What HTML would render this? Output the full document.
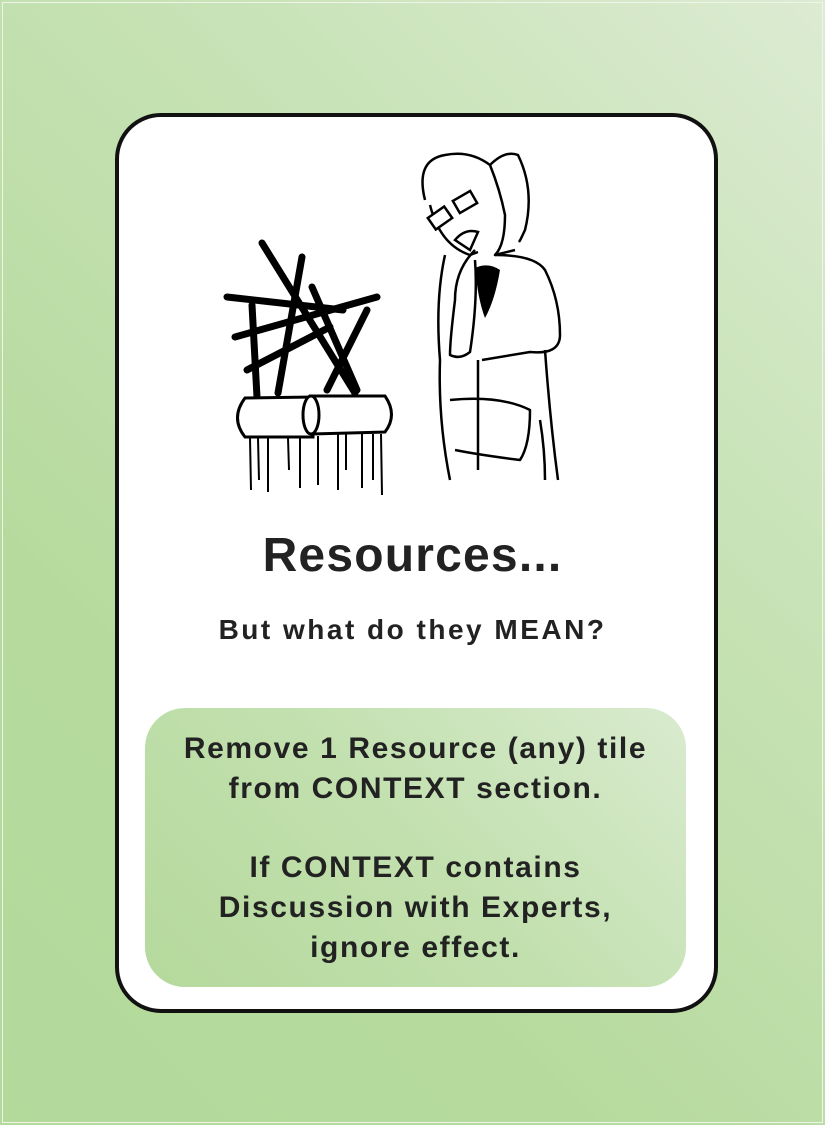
<!DOCTYPE html>
<html><head><meta charset="utf-8"><style>
html,body{margin:0;padding:0;}
body{width:825px;height:1125px;position:relative;overflow:hidden;
background:linear-gradient(225deg,#dcebd2 0%,#c6e2b4 35%,#b6da9e 70%,#b3d99b 100%);font-family:"Liberation Sans",sans-serif;}
.frame{position:absolute;left:2px;top:2px;width:819px;height:1119px;border:1px solid #eef5e8;}
.card{position:absolute;left:115px;top:113px;width:595px;height:892px;background:#fff;border:4px solid #111;border-radius:46px;}
.t1{position:absolute;left:0;width:825px;top:528px;text-align:center;font-weight:bold;font-size:48px;letter-spacing:1.2px;color:#222;}
.t2{position:absolute;left:0;width:825px;top:614px;text-align:center;font-weight:bold;font-size:28px;letter-spacing:2.5px;color:#222;}
.box{position:absolute;left:145px;top:708px;width:541px;height:279px;border-radius:40px;
background:linear-gradient(225deg,#d9ebcf 0%,#c2e0ae 50%,#b5d99d 100%);}
.bt{position:absolute;left:145px;width:541px;text-align:center;font-weight:bold;font-size:30px;letter-spacing:1.6px;color:#222;line-height:40px;}
svg{position:absolute;left:0;top:0;}
</style></head><body>
<div class="frame"></div>
<div class="card"></div>
<svg width="825" height="520" viewBox="0 0 825 520">
<g stroke="#000" stroke-width="7" stroke-linecap="round" fill="none">
<line x1="262" y1="243" x2="355" y2="393"/>
<line x1="227" y1="297" x2="343" y2="310"/>
<line x1="252" y1="305" x2="257" y2="397"/>
<line x1="302" y1="257" x2="278" y2="393"/>
<line x1="235" y1="337" x2="377" y2="297"/>
<line x1="247" y1="370" x2="330" y2="327"/>
<line x1="312" y1="287" x2="357" y2="390"/>
<line x1="367" y1="310" x2="327" y2="390"/>
</g>
<g stroke="#000" stroke-width="3" fill="#fff">
<path d="M245 398 L313 397 L313 437 L245 437 Q230 418 245 398 Z"/>
<path d="M310 396 L385 396 Q398 415 385 432 L312 434 Q302 415 310 396 Z"/>
<ellipse cx="311" cy="415" rx="8" ry="19"/>
</g>
<g stroke="#000" stroke-width="2">
<line x1="250" y1="438" x2="251" y2="490"/><line x1="258" y1="438" x2="259" y2="480"/>
<line x1="268" y1="438" x2="268" y2="492"/><line x1="288" y1="438" x2="289" y2="470"/>
<line x1="300" y1="438" x2="300" y2="488"/><line x1="318" y1="436" x2="318" y2="485"/>
<line x1="338" y1="434" x2="338" y2="490"/><line x1="346" y1="434" x2="346" y2="470"/>
<line x1="362" y1="434" x2="362" y2="488"/><line x1="373" y1="434" x2="373" y2="480"/>
<line x1="381" y1="434" x2="382" y2="495"/>
</g>
<g stroke="#000" stroke-width="2.5" fill="none" stroke-linejoin="round">
<path d="M425 200 Q415 160 445 155 Q470 150 490 165 Q500 190 505 215 Q505 245 495 255 L515 250"/>
<path d="M490 165 Q505 150 518 155 Q535 190 525 230 Q518 245 520 240"/>
<path d="M430 205 Q440 245 470 255 L478 252"/>
<path d="M445 255 Q435 300 440 360 Q438 420 450 480"/>
<path d="M495 255 Q535 255 545 270 Q560 300 560 335 Q560 355 530 352 L482 360"/>
<path d="M475 250 Q455 270 455 300 Q450 340 450 355 Q460 360 470 352 Q478 300 475 260"/>
<path d="M545 350 Q550 420 558 480"/>
<path d="M450 400 Q500 395 530 410 Q530 445 520 460 Q480 455 455 450"/>
<path d="M540 420 Q545 450 545 480"/>
<line x1="478" y1="360" x2="478" y2="470"/>
</g>
<rect x="430" y="211" width="20" height="14" transform="rotate(-35 440 218)" fill="#fff" stroke="#000" stroke-width="2.5"/>
<rect x="455" y="195" width="20" height="14" transform="rotate(-30 465 202)" fill="#fff" stroke="#000" stroke-width="2.5"/>
<path d="M475 268 Q488 262 500 270 Q495 300 485 318 Q478 300 475 268 Z" fill="#000"/>
<path d="M455 240 Q465 228 478 232 L470 250 Z" fill="#fff" stroke="#000" stroke-width="2.5"/>
</svg>
<div class="t1">Resources...</div>
<div class="t2">But what do they MEAN?</div>
<div class="box"></div>
<div class="bt" style="top:729px">Remove 1 Resource (any) tile<br>from CONTEXT section.</div>
<div class="bt" style="top:848px">If CONTEXT contains<br>Discussion with Experts,<br>ignore effect.</div>
</body></html>
